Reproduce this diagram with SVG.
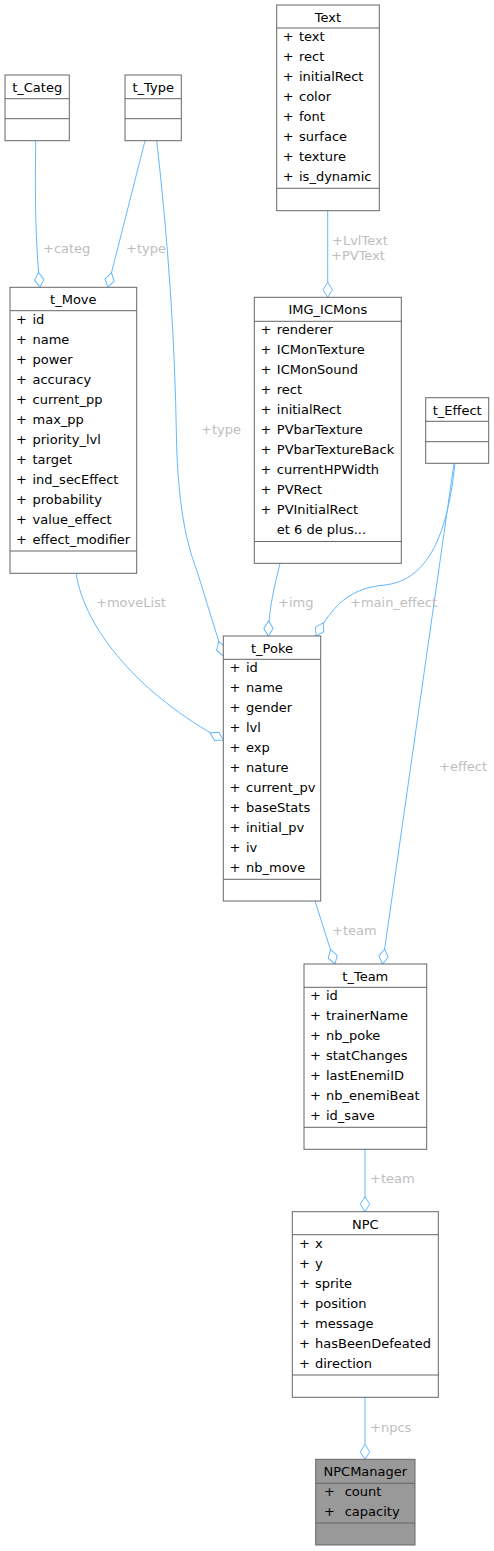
<svg xmlns="http://www.w3.org/2000/svg" width="494" height="1551" viewBox="0 0 494 1551">
<style>
text{font-family:"DejaVu Sans","Liberation Sans",sans-serif;font-size:13px;fill:#000}
.t{text-anchor:middle}
.lbl{fill:#bebebe}
.box{fill:#fff;stroke:#666;stroke-width:1}
.gbox{fill:#999;stroke:#666;stroke-width:1}
.sep{stroke:#666;stroke-width:1}
.e{fill:none;stroke:#63b8ff;stroke-width:1;marker-end:url(#od)}
</style>
<defs>
<marker id="od" markerUnits="userSpaceOnUse" markerWidth="18" markerHeight="12" viewBox="-1 -6 18 12" refX="15" refY="0" orient="auto">
<path d="M0,0 L7.5,-4.7 L15,0 L7.5,4.7 Z" fill="#fff" stroke="#63b8ff" stroke-width="1"/>
</marker>
</defs>
<rect width="494" height="1551" fill="#fff"/>
<g id="connectors">
<path class="e" d="M35.7,140.7 C35.5,170 34,230 40,287.3"/>
<path class="e" d="M145,140.7 L107.8,287.3"/>
<path class="e" d="M156.7,140.7 C168,240 175,340 176.5,440 C178,500 185,540 196.7,570 L223.3,656"/>
<path class="e" d="M327.7,210.7 L327.7,297.3"/>
<path class="e" d="M280,563.3 C275,585 269,605 268.3,636"/>
<path class="e" d="M455,463.3 C448,530 430,580 385,585 C350,588 333,605 316,636"/>
<path class="e" d="M454,463.3 L382.5,964"/>
<path class="e" d="M76,573.3 C85,630 140,695 223.3,740"/>
<path class="e" d="M315,901 L335,964"/>
<path class="e" d="M365,1149.3 L365,1211.7"/>
<path class="e" d="M365,1397.3 L365,1459.3"/>
<text class="lbl" x="43" y="253">+categ</text>
<text class="lbl" x="126" y="253">+type</text>
<text class="lbl" x="201" y="434">+type</text>
<text class="lbl" x="332" y="245">+LvlText</text>
<text class="lbl" x="331" y="260">+PVText</text>
<text class="lbl" x="96" y="607">+moveList</text>
<text class="lbl" x="278" y="607">+img</text>
<text class="lbl" x="350" y="607">+main_effect</text>
<text class="lbl" x="439" y="771">+effect</text>
<text class="lbl" x="332" y="935">+team</text>
<text class="lbl" x="370" y="1183">+team</text>
<text class="lbl" x="370" y="1431.5">+npcs</text>
</g>
<g id="t_Categ">
<rect class="box" x="5" y="75" width="64.3" height="65.7"/>
<line class="sep" x1="5" y1="98.7" x2="69.3" y2="98.7"/>
<line class="sep" x1="5" y1="118.7" x2="69.3" y2="118.7"/>
<text class="t" x="37.2" y="92">t_Categ</text>
</g>
<g id="t_Type">
<rect class="box" x="125" y="75" width="56.3" height="65.7"/>
<line class="sep" x1="125" y1="98.7" x2="181.3" y2="98.7"/>
<line class="sep" x1="125" y1="118.7" x2="181.3" y2="118.7"/>
<text class="t" x="153.2" y="92">t_Type</text>
</g>
<g id="Text">
<rect class="box" x="276.7" y="5" width="102.6" height="205.7"/>
<line class="sep" x1="276.7" y1="28" x2="379.3" y2="28"/>
<line class="sep" x1="276.7" y1="188.3" x2="379.3" y2="188.3"/>
<text class="t" x="328" y="22">Text</text>
<text x="282.7" y="41">+</text><text x="299" y="41">text</text>
<text x="282.7" y="61">+</text><text x="299" y="61">rect</text>
<text x="282.7" y="81">+</text><text x="299" y="81">initialRect</text>
<text x="282.7" y="101">+</text><text x="299" y="101">color</text>
<text x="282.7" y="121">+</text><text x="299" y="121">font</text>
<text x="282.7" y="141">+</text><text x="299" y="141">surface</text>
<text x="282.7" y="161">+</text><text x="299" y="161">texture</text>
<text x="282.7" y="181">+</text><text x="299" y="181">is_dynamic</text>
</g>
<g id="t_Move">
<rect class="box" x="10" y="287.3" width="126.7" height="286"/>
<line class="sep" x1="10" y1="310.7" x2="136.7" y2="310.7"/>
<line class="sep" x1="10" y1="551" x2="136.7" y2="551"/>
<text class="t" x="73.3" y="304.3">t_Move</text>
<text x="16" y="323.7">+</text><text x="32.5" y="323.7">id</text>
<text x="16" y="343.7">+</text><text x="32.5" y="343.7">name</text>
<text x="16" y="363.7">+</text><text x="32.5" y="363.7">power</text>
<text x="16" y="383.7">+</text><text x="32.5" y="383.7">accuracy</text>
<text x="16" y="403.7">+</text><text x="32.5" y="403.7">current_pp</text>
<text x="16" y="423.7">+</text><text x="32.5" y="423.7">max_pp</text>
<text x="16" y="443.7">+</text><text x="32.5" y="443.7">priority_lvl</text>
<text x="16" y="463.7">+</text><text x="32.5" y="463.7">target</text>
<text x="16" y="483.7">+</text><text x="32.5" y="483.7">ind_secEffect</text>
<text x="16" y="503.7">+</text><text x="32.5" y="503.7">probability</text>
<text x="16" y="523.7">+</text><text x="32.5" y="523.7">value_effect</text>
<text x="16" y="543.7">+</text><text x="32.5" y="543.7">effect_modifier</text>
</g>
<g id="IMG_ICMons">
<rect class="box" x="254.3" y="297.3" width="147" height="266"/>
<line class="sep" x1="254.3" y1="321.3" x2="401.3" y2="321.3"/>
<line class="sep" x1="254.3" y1="541.5" x2="401.3" y2="541.5"/>
<text class="t" x="327.8" y="314.3">IMG_ICMons</text>
<text x="260.5" y="334.3">+</text><text x="276.8" y="334.3">renderer</text>
<text x="260.5" y="354.3">+</text><text x="276.8" y="354.3">ICMonTexture</text>
<text x="260.5" y="374.3">+</text><text x="276.8" y="374.3">ICMonSound</text>
<text x="260.5" y="394.3">+</text><text x="276.8" y="394.3">rect</text>
<text x="260.5" y="414.3">+</text><text x="276.8" y="414.3">initialRect</text>
<text x="260.5" y="434.3">+</text><text x="276.8" y="434.3">PVbarTexture</text>
<text x="260.5" y="454.3">+</text><text x="276.8" y="454.3">PVbarTextureBack</text>
<text x="260.5" y="474.3">+</text><text x="276.8" y="474.3">currentHPWidth</text>
<text x="260.5" y="494.3">+</text><text x="276.8" y="494.3">PVRect</text>
<text x="260.5" y="514.3">+</text><text x="276.8" y="514.3">PVInitialRect</text>
<text x="276.8" y="534.3">et 6 de plus...</text>
</g>
<g id="t_Effect">
<rect class="box" x="425.7" y="397.7" width="63" height="65.6"/>
<line class="sep" x1="425.7" y1="421.3" x2="488.7" y2="421.3"/>
<line class="sep" x1="425.7" y1="441.7" x2="488.7" y2="441.7"/>
<text class="t" x="457.2" y="414.7">t_Effect</text>
</g>
<g id="t_Poke">
<rect class="box" x="223.3" y="636" width="97.4" height="265"/>
<line class="sep" x1="223.3" y1="659.3" x2="320.7" y2="659.3"/>
<line class="sep" x1="223.3" y1="879.3" x2="320.7" y2="879.3"/>
<text class="t" x="272" y="653">t_Poke</text>
<text x="229.5" y="672.3">+</text><text x="246" y="672.3">id</text>
<text x="229.5" y="692.3">+</text><text x="246" y="692.3">name</text>
<text x="229.5" y="712.3">+</text><text x="246" y="712.3">gender</text>
<text x="229.5" y="732.3">+</text><text x="246" y="732.3">lvl</text>
<text x="229.5" y="752.3">+</text><text x="246" y="752.3">exp</text>
<text x="229.5" y="772.3">+</text><text x="246" y="772.3">nature</text>
<text x="229.5" y="792.3">+</text><text x="246" y="792.3">current_pv</text>
<text x="229.5" y="812.3">+</text><text x="246" y="812.3">baseStats</text>
<text x="229.5" y="832.3">+</text><text x="246" y="832.3">initial_pv</text>
<text x="229.5" y="852.3">+</text><text x="246" y="852.3">iv</text>
<text x="229.5" y="872.3">+</text><text x="246" y="872.3">nb_move</text>
</g>
<g id="t_Team">
<rect class="box" x="304" y="964" width="122.7" height="185.3"/>
<line class="sep" x1="304" y1="987.3" x2="426.7" y2="987.3"/>
<line class="sep" x1="304" y1="1127.3" x2="426.7" y2="1127.3"/>
<text class="t" x="365.3" y="981">t_Team</text>
<text x="310" y="1000.3">+</text><text x="326" y="1000.3">id</text>
<text x="310" y="1020.3">+</text><text x="326" y="1020.3">trainerName</text>
<text x="310" y="1040.3">+</text><text x="326" y="1040.3">nb_poke</text>
<text x="310" y="1060.3">+</text><text x="326" y="1060.3">statChanges</text>
<text x="310" y="1080.3">+</text><text x="326" y="1080.3">lastEnemiID</text>
<text x="310" y="1100.3">+</text><text x="326" y="1100.3">nb_enemiBeat</text>
<text x="310" y="1120.3">+</text><text x="326" y="1120.3">id_save</text>
</g>
<g id="NPC">
<rect class="box" x="292.3" y="1211.7" width="146" height="185.6"/>
<line class="sep" x1="292.3" y1="1234.7" x2="438.3" y2="1234.7"/>
<line class="sep" x1="292.3" y1="1375" x2="438.3" y2="1375"/>
<text class="t" x="365.3" y="1228.7">NPC</text>
<text x="299" y="1247.7">+</text><text x="315" y="1247.7">x</text>
<text x="299" y="1267.7">+</text><text x="315" y="1267.7">y</text>
<text x="299" y="1287.7">+</text><text x="315" y="1287.7">sprite</text>
<text x="299" y="1307.7">+</text><text x="315" y="1307.7">position</text>
<text x="299" y="1327.7">+</text><text x="315" y="1327.7">message</text>
<text x="299" y="1347.7">+</text><text x="315" y="1347.7">hasBeenDefeated</text>
<text x="299" y="1367.7">+</text><text x="315" y="1367.7">direction</text>
</g>
<g id="NPCManager">
<rect class="gbox" x="315.7" y="1459.3" width="99.3" height="85.7"/>
<line class="sep" x1="315.7" y1="1483.3" x2="415" y2="1483.3"/>
<line class="sep" x1="315.7" y1="1523" x2="415" y2="1523"/>
<text class="t" x="365.3" y="1476.3">NPCManager</text>
<text x="324" y="1496.3">+</text><text x="344.7" y="1496.3">count</text>
<text x="324" y="1516.3">+</text><text x="344.7" y="1516.3">capacity</text>
</g>
</svg>
